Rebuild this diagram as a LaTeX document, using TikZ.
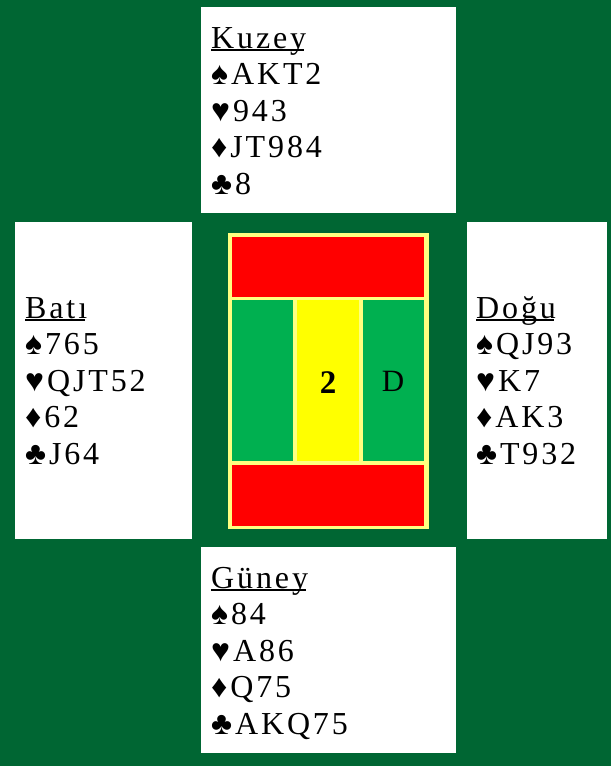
\documentclass[tikz,border=0pt]{standalone}
\usepackage{fontspec}
\setmainfont{Liberation Serif}
\newfontfamily\trk[LetterSpace=9]{Liberation Serif}
\definecolor{felt}{HTML}{006633}
\definecolor{vred}{HTML}{FF0000}
\definecolor{vgreen}{HTML}{00B050}
\definecolor{vyellow}{HTML}{FFFF00}
\definecolor{vborder}{HTML}{FFFF80}
\newcommand\hname[1]{\setbox0\hbox{#1}\rlap{\rule[-3.2pt]{\dimexpr\wd0-2pt\relax}{1.8pt}}\box0}
\begin{document}
\begin{tikzpicture}[x=1pt,y=-1pt,
  handbox/.style={fill=white,draw=none,inner sep=0pt,anchor=north west},
  cardline/.style={anchor=base west,inner sep=0pt,font=\trk\fontsize{32}{36}\selectfont},
  centremark/.style={anchor=base,inner sep=0pt,font=\fontsize{31}{36}\selectfont}]
\useasboundingbox (0,0) rectangle (611,766);
\fill[felt] (0,0) rectangle (611,766);
% hand boxes
\node[handbox,minimum width=255pt,minimum height=206pt] (Nbox) at (201,7) {};
\node[handbox,minimum width=177pt,minimum height=317pt] (Wbox) at (15,222) {};
\node[handbox,minimum width=140pt,minimum height=317pt] (Ebox) at (467,222) {};
\node[handbox,minimum width=255pt,minimum height=206pt] (Sbox) at (201,547) {};
% centre
\fill[vborder] (228,233) rectangle (429,529);
\fill[vred] (232,237) rectangle (424,297);
\fill[vgreen] (232,300) rectangle (293,461);
\fill[vyellow] (297,300) rectangle (359,461);
\fill[vgreen] (363,300) rectangle (424,461);
\fill[vred] (232,465) rectangle (424,526);
\node[centremark,font=\fontsize{33}{36}\selectfont\bfseries] (vul) at (328,393) {2};
\node[centremark] (dlr) at (393,391) {D};
% North
\node[cardline] (n0) at (211,48) {\hname{Kuzey}};
\node[cardline] (n1) at (211,84.6) {♠AKT2};
\node[cardline] (n2) at (211,121.2) {♥943};
\node[cardline] (n3) at (211,157.8) {♦JT984};
\node[cardline] (n4) at (211,194.4) {♣8};
% West
\node[cardline] (w0) at (25,318) {\hname{Batı}};
\node[cardline] (w1) at (25,354.6) {♠765};
\node[cardline] (w2) at (25,391.2) {♥QJT52};
\node[cardline] (w3) at (25,427.8) {♦62};
\node[cardline] (w4) at (25,464.4) {♣J64};
% East
\node[cardline] (e0) at (476,318) {\hname{Doğu}};
\node[cardline] (e1) at (476,354.6) {♠QJ93};
\node[cardline] (e2) at (476,391.2) {♥K7};
\node[cardline] (e3) at (476,427.8) {♦AK3};
\node[cardline] (e4) at (476,464.4) {♣T932};
% South
\node[cardline] (s0) at (211,588) {\hname{Güney}};
\node[cardline] (s1) at (211,624.6) {♠84};
\node[cardline] (s2) at (211,661.2) {♥A86};
\node[cardline] (s3) at (211,697.8) {♦Q75};
\node[cardline] (s4) at (211,734.4) {♣AKQ75};
\end{tikzpicture}
\end{document}
